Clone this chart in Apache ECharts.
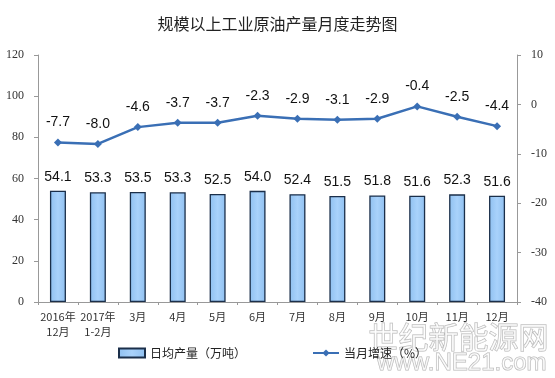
<!DOCTYPE html>
<html>
<head>
<meta charset="utf-8">
<script src="https://cdn.jsdelivr.net/npm/echarts@6/dist/echarts.min.js"></script>
<style>
  html, body { margin: 0; padding: 0; background: #fff; }
  #chart { width: 555px; height: 378px; }
</style>
</head>
<body>
<div id="chart"></div>
<script>
// 月份
const months = ["2016年\n12月", "2017年\n1-2月", "3月", "4月", "5月", "6月", "7月", "8月", "9月", "10月", "11月", "12月"];
// 日均产量（万吨）
const dailyOutput = [54.1, 53.3, 53.5, 53.3, 52.5, 54.0, 52.4, 51.5, 51.8, 51.6, 52.3, 51.6];
// 当月增速（%）
const growthRate = [-7.7, -8.0, -4.6, -3.7, -3.7, -2.3, -2.9, -3.1, -2.9, -0.4, -2.5, -4.4];

const chart = echarts.init(document.getElementById("chart"));

const cjk = "'Noto Sans CJK SC', sans-serif";
const serif = "'Liberation Serif', 'DejaVu Serif', serif";

chart.setOption({
  animation: false,
  title: {
    text: "规模以上工业原油产量月度走势图",
    left: "center",
    top: 11,
    textStyle: { fontFamily: cjk, fontSize: 16, fontWeight: "normal", color: "#222" },
  },
  legend: {
    bottom: 14,
    left: 113,
    itemGap: 66,
    itemWidth: 26,
    itemHeight: 9,
    textStyle: { fontFamily: cjk, fontSize: 12, color: "#222" },
    data: [
      { name: "日均产量（万吨）", icon: "rect" },
      { name: "当月增速（%）" },
    ],
  },
  grid: { left: 38, right: 38, top: 55, bottom: 76 },
  xAxis: {
    type: "category",
    data: months,
    axisLine: { lineStyle: { color: "#999" } },
    axisTick: { show: true, length: 3, lineStyle: { color: "#999" } },
    axisLabel: { interval: 0, fontFamily: cjk, fontSize: 11, color: "#333", lineHeight: 15, margin: 7 },
  },
  yAxis: [
    {
      type: "value",
      min: 0,
      max: 120,
      interval: 20,
      axisLine: { show: true, lineStyle: { color: "#999" } },
      axisTick: { show: true, length: 4, lineStyle: { color: "#999" } },
      splitLine: { show: false },
      axisLabel: { fontFamily: serif, fontSize: 12, color: "#333", margin: 14 },
    },
    {
      type: "value",
      min: -40,
      max: 10,
      interval: 10,
      axisLine: { show: true, lineStyle: { color: "#999" } },
      axisTick: { show: true, length: 4, lineStyle: { color: "#999" } },
      splitLine: { show: false },
      axisLabel: { fontFamily: serif, fontSize: 12, color: "#333", margin: 14 },
    },
  ],
  series: [
    {
      name: "日均产量（万吨）",
      type: "bar",
      data: dailyOutput,
      barWidth: 16,
      itemStyle: {
        color: new echarts.graphic.LinearGradient(0, 0, 1, 0, [
          { offset: 0, color: "#8fc0f0" },
          { offset: 0.5, color: "#a9d2fb" },
          { offset: 1, color: "#8fc0f0" },
        ]),
        borderColor: "#1b2f4a",
        borderWidth: 1.3,
      },
      label: {
        show: true,
        position: "top",
        distance: 7,
        formatter: (p) => p.value.toFixed(1),
        fontFamily: "'Liberation Sans', Arial, sans-serif",
        fontSize: 14,
        color: "#111",
      },
    },
    {
      name: "当月增速（%）",
      type: "line",
      yAxisIndex: 1,
      data: growthRate,
      symbol: "diamond",
      symbolSize: 8,
      lineStyle: { color: "#3a6fb5", width: 2.5 },
      itemStyle: { color: "#3a6fb5" },
      label: {
        show: true,
        position: "top",
        distance: 9,
        formatter: (p) => p.value.toFixed(1),
        fontFamily: "'Liberation Sans', Arial, sans-serif",
        fontSize: 14,
        color: "#111",
      },
    },
  ],
  graphic: [
    {
      type: "text",
      right: 6,
      bottom: 26,
      style: {
        text: "世纪新能源网",
        font: "30px 'Noto Sans CJK SC'",
        fill: "rgba(255,255,255,0.6)",
        stroke: "#b5b5b5",
        lineWidth: 1,
      },
    },
    {
      type: "text",
      right: 8,
      bottom: 2,
      style: {
        text: "www.NE21.com",
        font: "24px 'Liberation Sans'",
        fill: "rgba(255,255,255,0.6)",
        stroke: "#b5b5b5",
        lineWidth: 1,
      },
    },
  ],
});

window.addEventListener("resize", () => chart.resize());
</script>
</body>
</html>
